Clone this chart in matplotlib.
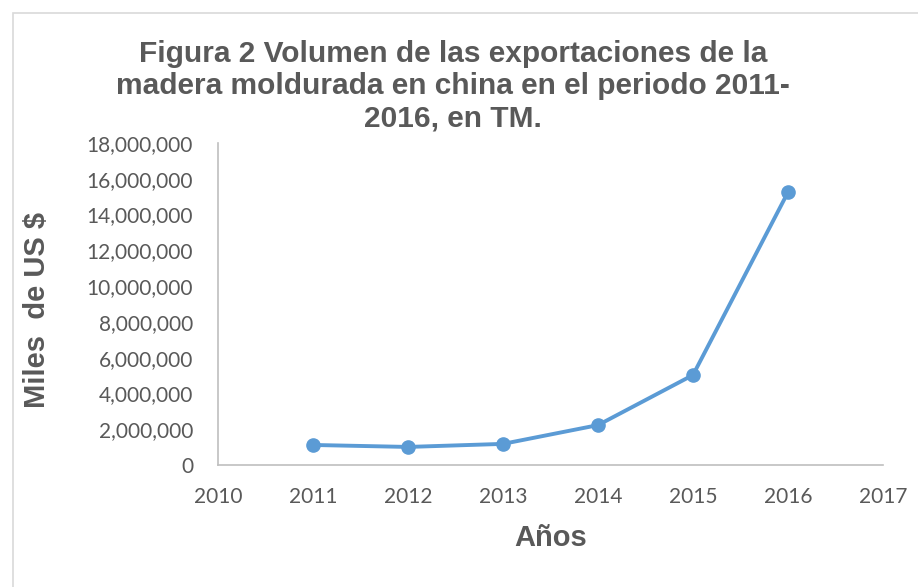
import matplotlib.pyplot as plt
import matplotlib.patches as patches
from matplotlib.ticker import FuncFormatter

# data
years = [2011, 2012, 2013, 2014, 2015, 2016]
values = [1120000, 1010000, 1180000, 2230000, 5030000, 15250000]

TITLE = 'Figura 2 Volumen de las exportaciones de la\nmadera moldurada en china en el periodo 2011-\n2016, en TM.'
GRAY = '#595959'
BLUE = '#5B9BD5'

fig = plt.figure(figsize=(9.18, 5.87), dpi=100)
ax = fig.add_axes([218 / 918, 1 - 465 / 587, (883 - 218) / 918, (465 - 143) / 587])

# outer chart border (light gray)
fig.patches.append(patches.Rectangle((13 / 918, -0.1), 1.1, 1 - 13 / 587 + 0.1,
                                     transform=fig.transFigure, fill=False,
                                     edgecolor='#D9D9D9', linewidth=1.2))

ax.plot(years, values, color=BLUE, linewidth=2.8, marker='o', markersize=9.5,
        markerfacecolor=BLUE, markeredgecolor=BLUE)

ax.set_xlim(2010, 2017)
ax.set_ylim(0, 18000000)
ax.set_xticks(range(2010, 2018))
ax.set_yticks(range(0, 18000001, 2000000))
ax.yaxis.set_major_formatter(FuncFormatter(lambda v, p: f'{int(v):,}'))

for s in ['top', 'right']:
    ax.spines[s].set_visible(False)
for s in ['left', 'bottom']:
    ax.spines[s].set_color('#BFBFBF')
    ax.spines[s].set_linewidth(1.2)
ax.tick_params(length=0, labelsize=15, labelcolor=GRAY)
ax.tick_params(axis='y', pad=18)
ax.tick_params(axis='x', pad=16)
for lab in ax.get_xticklabels() + ax.get_yticklabels():
    lab.set_family('Lato')

ax.set_xlabel('Años', fontsize=21, fontweight='bold', color=GRAY,
              family='Liberation Sans')
ax.set_ylabel('Miles  de US $', fontsize=21, fontweight='bold', color=GRAY,
              family='Liberation Sans')
ax.xaxis.set_label_coords(551 / 918, 1 - 538 / 587, transform=fig.transFigure)
ax.xaxis.label.set_va('center')
ax.yaxis.set_label_coords(37 / 918, 1 - 310 / 587, transform=fig.transFigure)
ax.yaxis.label.set_va('center')

fig.text(453 / 918, 1 - 86 / 587, TITLE, ha='center', va='center',
         fontsize=21.5, fontweight='bold', color=GRAY, family='Liberation Sans',
         linespacing=1.2)

fig.savefig('out.png', dpi=100)
